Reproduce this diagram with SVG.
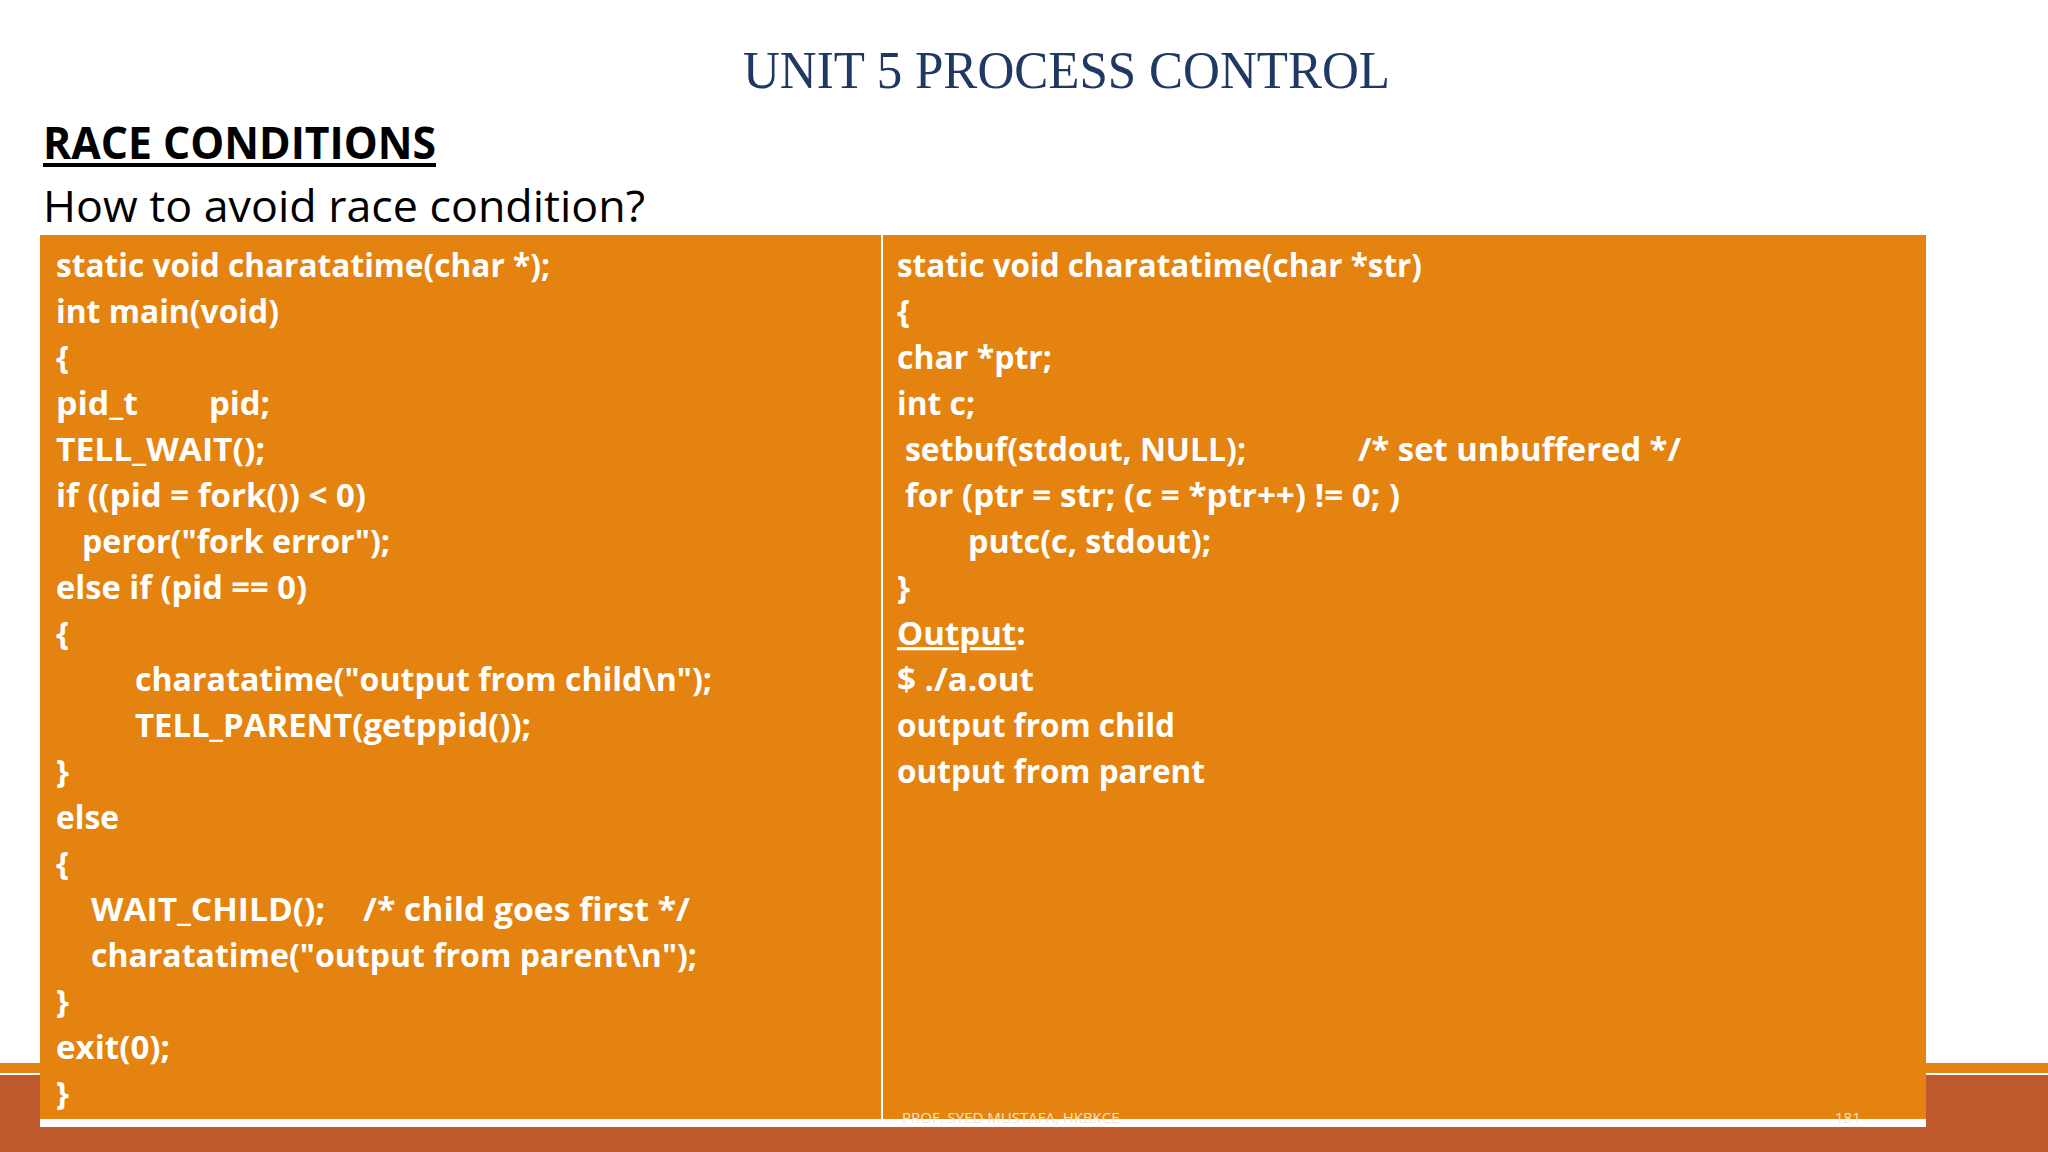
<svg xmlns="http://www.w3.org/2000/svg" width="2048" height="1152" viewBox="0 0 2048 1152">
<style>
.c{font-family:"Open Sans","Liberation Sans",sans-serif;font-weight:700;font-size:33px;fill:#fff}
.h{font-family:"Open Sans","Liberation Sans",sans-serif;fill:#000;font-size:44px}
.f{font-family:"Open Sans","Liberation Sans",sans-serif;font-size:15px;fill:#fbe3c8}
</style>
<rect width="2048" height="1152" fill="#fff"/>
<rect x="0" y="1063" width="2048" height="10" fill="#e4830f"/>
<rect x="0" y="1075" width="2048" height="77" fill="#be5a2c"/>
<g id="title">
<text x="743" y="88" font-family="Liberation Serif,serif" font-size="52" fill="#1f3864" textLength="647" lengthAdjust="spacingAndGlyphs">UNIT 5 PROCESS CONTROL</text>
</g>
<g id="heading">
<text class="h" x="43" y="159" font-weight="700" textLength="393" lengthAdjust="spacingAndGlyphs">RACE CONDITIONS</text>
<rect x="43" y="163" width="393" height="4" fill="#000"/>
<text class="h" x="43" y="222" textLength="602" lengthAdjust="spacingAndGlyphs">How to avoid race condition?</text>
</g>
<g id="table">
<rect x="40" y="1119" width="1886" height="8" fill="#fff"/>
<rect x="40" y="235" width="1886" height="884" fill="#e4830f"/>
<line x1="882" y1="235" x2="882" y2="1119" stroke="#fff" stroke-width="2"/>
</g>
<g id="left-code">
<text class="c" x="56" y="277" textLength="494" lengthAdjust="spacingAndGlyphs">static void charatatime(char *);</text>
<text class="c" x="56" y="323" textLength="223" lengthAdjust="spacingAndGlyphs">int main(void)</text>
<text class="c" x="56" y="369">{</text>
<text class="c" x="56" y="415" textLength="82" lengthAdjust="spacingAndGlyphs">pid_t</text>
<text class="c" x="209" y="415" textLength="61" lengthAdjust="spacingAndGlyphs">pid;</text>
<text class="c" x="56" y="461" textLength="209" lengthAdjust="spacingAndGlyphs">TELL_WAIT();</text>
<text class="c" x="56" y="507" textLength="310" lengthAdjust="spacingAndGlyphs">if ((pid = fork()) &lt; 0)</text>
<text class="c" x="82" y="553" textLength="308" lengthAdjust="spacingAndGlyphs">peror("fork error");</text>
<text class="c" x="56" y="599" textLength="251" lengthAdjust="spacingAndGlyphs">else if (pid == 0)</text>
<text class="c" x="56" y="645">{</text>
<text class="c" x="135" y="691" textLength="577" lengthAdjust="spacingAndGlyphs">charatatime("output from child\n");</text>
<text class="c" x="135" y="737" textLength="396" lengthAdjust="spacingAndGlyphs">TELL_PARENT(getppid());</text>
<text class="c" x="56" y="783">}</text>
<text class="c" x="56" y="829" textLength="63" lengthAdjust="spacingAndGlyphs">else</text>
<text class="c" x="56" y="875">{</text>
<text class="c" x="91" y="921" textLength="234" lengthAdjust="spacingAndGlyphs">WAIT_CHILD();</text>
<text class="c" x="363" y="921" textLength="327" lengthAdjust="spacingAndGlyphs">/*  child goes first */</text>
<text class="c" x="91" y="967" textLength="606" lengthAdjust="spacingAndGlyphs">charatatime("output from parent\n");</text>
<text class="c" x="56" y="1013">}</text>
<text class="c" x="56" y="1059" textLength="114" lengthAdjust="spacingAndGlyphs">exit(0);</text>
<text class="c" x="56" y="1105">}</text>
</g>
<g id="right-code">
<text class="c" x="897" y="277" textLength="525" lengthAdjust="spacingAndGlyphs">static void charatatime(char *str)</text>
<text class="c" x="897" y="323">{</text>
<text class="c" x="897" y="369" textLength="155" lengthAdjust="spacingAndGlyphs">char *ptr;</text>
<text class="c" x="897" y="415" textLength="78" lengthAdjust="spacingAndGlyphs">int c;</text>
<text class="c" x="905" y="461" textLength="341" lengthAdjust="spacingAndGlyphs">setbuf(stdout, NULL);</text>
<text class="c" x="1358" y="461" textLength="323" lengthAdjust="spacingAndGlyphs">/* set unbuffered */</text>
<text class="c" x="905" y="507" textLength="495" lengthAdjust="spacingAndGlyphs">for (ptr = str; (c = *ptr++) != 0; )</text>
<text class="c" x="968" y="553" textLength="243" lengthAdjust="spacingAndGlyphs">putc(c, stdout);</text>
<text class="c" x="897" y="599">}</text>
<text class="c" x="897" y="645"><tspan text-decoration="underline">Output</tspan>:</text>
<text class="c" x="897" y="691" textLength="137" lengthAdjust="spacingAndGlyphs">$ ./a.out</text>
<text class="c" x="897" y="737" textLength="278" lengthAdjust="spacingAndGlyphs">output from child</text>
<text class="c" x="897" y="783" textLength="308" lengthAdjust="spacingAndGlyphs">output from parent</text>
</g>
<g id="footer">
<text class="f" x="902" y="1123">PROF. SYED MUSTAFA, HKBKCE</text>
<text class="f" x="1835" y="1123">181</text>
</g>
</svg>
